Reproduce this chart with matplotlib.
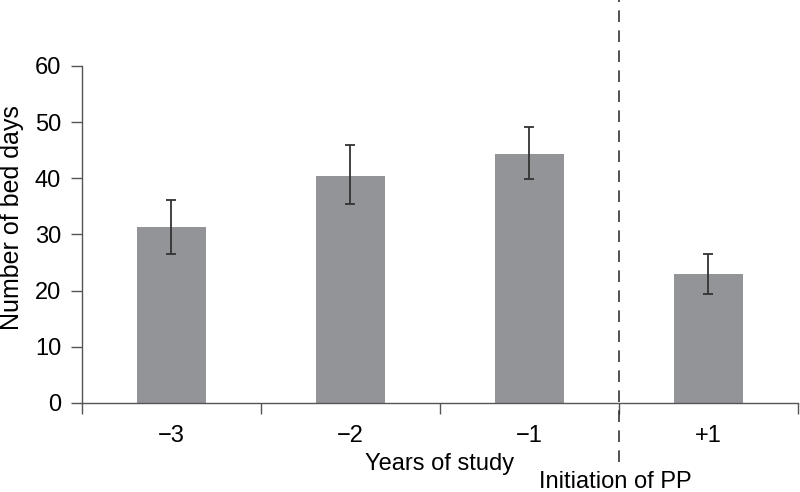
import matplotlib
matplotlib.use("Agg")
import matplotlib.pyplot as plt
import numpy as np

# data
years = ['\u22123', '\u22122', '\u22121', '+1']
bed_days = [31.3, 40.4, 44.3, 22.9]
err_low = [4.8, 4.9, 4.4, 3.5]
err_high = [4.9, 5.5, 4.8, 3.7]

plt.rcParams['font.family'] = ['Liberation Sans', 'DejaVu Sans']
plt.rcParams['font.size'] = 16

axis_grey = '#555555'
bar_grey = '#939498'

fig = plt.figure(figsize=(8, 4.92), dpi=100)
ax = fig.add_axes([0.1025, 0.181, 0.8945, 0.685])

x = np.arange(len(years))
ax.bar(x, bed_days, width=0.385, color=bar_grey,
       yerr=[err_low, err_high], capsize=3.6,
       error_kw=dict(ecolor='#333333', elinewidth=1.3, capthick=1.3))

ax.set_xlim(-0.5, len(years) - 0.5)
ax.set_ylim(0, 60)
ax.set_yticks(np.arange(0, 61, 10))

# category labels sit between the boundary ticks
ax.set_xticks(np.arange(-0.5, len(years), 1.0))
ax.set_xticklabels([])
ax.set_xticks(x, minor=True)
ax.set_xticklabels(years, minor=True)
ax.tick_params(axis='x', which='minor', length=0, pad=16, labelsize=17)
ax.tick_params(axis='x', which='major', length=8, width=1, color=axis_grey)
ax.tick_params(axis='y', length=8, width=1, color=axis_grey, pad=7, labelsize=17)

for side in ['top', 'right']:
    ax.spines[side].set_visible(False)
for side in ['left', 'bottom']:
    ax.spines[side].set_color(axis_grey)
    ax.spines[side].set_linewidth(1)

ax.set_ylabel('Number of bed days', fontsize=18)
ax.yaxis.set_label_coords(-0.081, 0.55)
ax.text(1.5, -0.18, 'Years of study', transform=ax.get_xaxis_transform(),
        ha='center', va='center', fontsize=17)

# start of PP
ax.axvline(2.5, ymin=-0.175, ymax=1.2, color='#333333', linewidth=1.2,
           linestyle=(0, (7, 5)), clip_on=False)
ax.text(2.48, -0.235, 'Initiation of PP', transform=ax.get_xaxis_transform(),
        ha='center', va='center', fontsize=17)

fig.savefig('out.png', dpi=100)
